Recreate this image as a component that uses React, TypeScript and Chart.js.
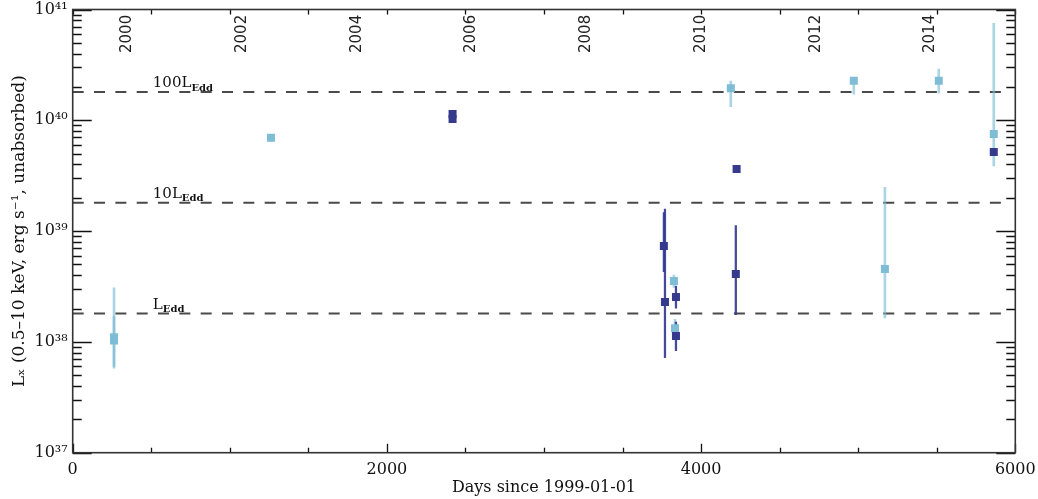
import React, { useEffect, useRef } from 'react';
import { Chart, registerables } from 'chart.js';

Chart.register(...registerables);

// ---------- data ----------
const lightDays = [263, 263, 1262, 3827, 3834, 4189, 4972, 5170, 5513, 5863];
const lightLum = [1.10e38, 1.03e38, 6.96e39, 3.55e38, 1.33e38, 1.95e40, 2.27e40, 4.55e38, 2.27e40, 7.52e39];
const lightLow = [6.0e37, 5.8e37, 6.5e39, 3.1e38, 1.1e38, 1.33e40, 1.72e40, 1.65e38, 1.76e40, 3.87e39];
const lightHigh = [3.08e38, 1.69e38, 7.4e39, 4.0e38, 1.6e38, 2.26e40, 2.35e40, 2.48e39, 2.9e40, 7.5e40];

const darkDays = [2418, 2418, 3763, 3770, 3840, 3840, 4221, 4226, 5863];
const darkLum = [1.14e40, 1.03e40, 7.35e38, 2.29e38, 2.54e38, 1.13e38, 4.10e38, 3.63e39, 5.18e39];
const darkLow = [1.08e40, 0.98e40, 4.31e38, 7.2e37, 2.02e38, 8.34e37, 1.76e38, 3.5e39, 4.9e39];
const darkHigh = [1.2e40, 1.08e40, 1.47e39, 1.58e39, 3.19e38, 1.51e38, 1.12e39, 3.75e39, 5.5e39];

const eddLevels = [1.8e38, 1.8e39, 1.8e40];
const eddPrefixes = ['', '10', '100'];
const eddLineEndDay = 5935;
const eddLabelDay = 510;

const xTickValues = [0, 2000, 4000, 6000];
const xTickLabels = ['0', '2000', '4000', '6000'];
const xMinorStep = 500;
const yTickValues = [1e37, 1e38, 1e39, 1e40, 1e41];
const yTickLabels = ['10³⁷', '10³⁸', '10³⁹', '10⁴⁰', '10⁴¹'];
const yearLabels = ['2000', '2002', '2004', '2006', '2008', '2010', '2012', '2014'];

const dayOfYearStart = (y: number) => (Date.UTC(y, 0, 1) - Date.UTC(1999, 0, 1)) / 86400000;

// ---------- colours ----------
const LIGHT = '#7fbcd6';
const LIGHT_ERR = 'rgba(120,185,212,0.62)';
const DARK = '#363a8c';
const DARK_ERR = 'rgba(52,57,145,0.92)';

const decorPlugin = {
  id: 'decor',
  afterDatasetsDraw(chart: any) {
    const { ctx, chartArea: a, scales } = chart;
    const x = scales.x;
    const y = scales.y;
    ctx.save();
    // inward ticks
    ctx.strokeStyle = '#111';
    ctx.lineWidth = 1.3;
    ctx.beginPath();
    for (let d = xTickValues[0]; d <= xTickValues[xTickValues.length - 1]; d += xMinorStep) {
      const px = Math.round(x.getPixelForValue(d)) + 0.5;
      const major = xTickValues.includes(d);
      ctx.moveTo(px, a.bottom);
      ctx.lineTo(px, a.bottom - (major ? 9 : 5));
      ctx.moveTo(px, a.top);
      ctx.lineTo(px, a.top + 5);
    }
    for (let i = 0; i < yTickValues.length; i++) {
      const dec = yTickValues[i];
      for (let m = 1; m <= 9; m++) {
        if (i === yTickValues.length - 1 && m > 1) break;
        const py = Math.round(y.getPixelForValue(m * dec)) + 0.5;
        const len = m === 1 ? 19 : 9;
        ctx.moveTo(a.left, py);
        ctx.lineTo(a.left + len, py);
        ctx.moveTo(a.right, py);
        ctx.lineTo(a.right - len, py);
      }
    }
    ctx.stroke();
    // frame
    ctx.strokeStyle = '#333';
    ctx.lineWidth = 1.6;
    ctx.strokeRect(a.left, a.top, a.right - a.left, a.bottom - a.top);

    // year labels (top, inside)
    ctx.fillStyle = '#222';
    ctx.font = '15px "DejaVu Sans"';
    ctx.textAlign = 'left';
    ctx.textBaseline = 'alphabetic';
    for (const lab of yearLabels) {
      const px = x.getPixelForValue(dayOfYearStart(Number(lab)));
      ctx.save();
      ctx.translate(px + 1, a.top + 43.5);
      ctx.rotate(-Math.PI / 2);
      ctx.fillText(lab, 0, 0);
      ctx.restore();
    }

    // Eddington labels
    ctx.fillStyle = '#111';
    for (let i = 0; i < eddLevels.length; i++) {
      const py = y.getPixelForValue(eddLevels[i]);
      const px = x.getPixelForValue(eddLabelDay);
      ctx.font = '15px "DejaVu Serif"';
      const main = eddPrefixes[i] + 'L';
      ctx.fillText(main, px, py - 5);
      const w = ctx.measureText(main).width;
      ctx.font = 'bold 10px "DejaVu Serif"';
      ctx.fillText('Edd', px + w, py - 1.5);
    }
    ctx.restore();
  },
};

function errBars(days: number[], low: number[], high: number[]) {
  return days.map((d, i) => ({ x: d, y: [low[i], high[i]] }));
}
function pts(days: number[], lum: number[]) {
  return days.map((d, i) => ({ x: d, y: lum[i] }));
}

export default function App() {
  const ref = useRef<HTMLCanvasElement>(null);
  useEffect(() => {
    document.body.style.margin = '0';
    const eddDatasets = eddLevels.map((L) => ({
      type: 'line' as const,
      data: [
        { x: 0, y: L },
        { x: eddLineEndDay, y: L },
      ],
      borderColor: '#4a4a4a',
      borderWidth: 2,
      borderDash: [11, 10.33],
      pointRadius: 0,
      order: 10,
    }));
    const chart = new Chart(ref.current as HTMLCanvasElement, {
      type: 'scatter',
      data: {
        datasets: [
          ...eddDatasets,
          {
            type: 'bar',
            data: errBars(lightDays, lightLow, lightHigh) as any,
            backgroundColor: LIGHT_ERR,
            borderWidth: 0,
            barThickness: 2,
            grouped: false,
            order: 4,
          } as any,
          {
            type: 'bar',
            data: errBars(darkDays, darkLow, darkHigh) as any,
            backgroundColor: DARK_ERR,
            borderWidth: 0,
            barThickness: 1.6,
            grouped: false,
            order: 3,
          } as any,
          {
            type: 'scatter',
            data: pts(lightDays, lightLum),
            pointStyle: 'rect',
            pointRadius: 5.66,
            pointBorderWidth: 0,
            backgroundColor: LIGHT,
            borderColor: LIGHT,
            order: 2,
          },
          {
            type: 'scatter',
            data: pts(darkDays, darkLum),
            pointStyle: 'rect',
            pointRadius: 5.66,
            pointBorderWidth: 0,
            backgroundColor: DARK,
            borderColor: DARK,
            order: 1,
          },
        ],
      },
      options: {
        responsive: false,
        animation: false,
        events: [],
        layout: { padding: { top: 9.5, right: 22.7, left: 0, bottom: 0 } },
        plugins: { legend: { display: false }, tooltip: { enabled: false } },
        scales: {
          x: {
            type: 'linear',
            min: 0,
            max: 6000,
            offset: false,
            grid: { display: false, drawTicks: false },
            border: { display: false },
            afterBuildTicks: (s: any) => {
              s.ticks = xTickValues.map((v) => ({ value: v }));
            },
            afterFit: (s: any) => {
              s.height = 46.3;
              s.paddingLeft = 0;
              s.paddingRight = 0;
            },
            ticks: {
              padding: 8,
              maxRotation: 0,
              color: '#111',
              font: { family: '"DejaVu Serif"', size: 16 },
              callback: (v: any) => xTickLabels[xTickValues.indexOf(Number(v))] ?? '',
            },
            title: {
              display: true,
              text: 'Days since 1999-01-01',
              color: '#111',
              font: { family: '"DejaVu Serif"', size: 16 },
              padding: { top: 0, bottom: 2 },
            },
          },
          y: {
            type: 'logarithmic',
            min: 1e37,
            max: 1e41,
            grid: { display: false, drawTicks: false },
            border: { display: false },
            afterBuildTicks: (s: any) => {
              s.ticks = yTickValues.map((v) => ({ value: v }));
            },
            afterFit: (s: any) => {
              s.width = 72.7;
              s.paddingTop = 0;
              s.paddingBottom = 0;
            },
            ticks: {
              padding: 5,
              color: '#111',
              font: { family: '"DejaVu Serif"', size: 16 },
              callback: (v: any) => {
                const i = yTickValues.findIndex((t) => Math.abs(t - Number(v)) / t < 1e-6);
                return i >= 0 ? yTickLabels[i] : '';
              },
            },
            title: {
              display: true,
              text: 'Lₓ (0.5–10 keV, erg s⁻¹, unabsorbed)',
              color: '#111',
              font: { family: '"DejaVu Serif"', size: 17 },
              padding: { top: 9, bottom: 0 },
            },
          },
        },
      },
      plugins: [decorPlugin],
    } as any);
    return () => chart.destroy();
  }, []);
  return (
    <canvas
      ref={ref}
      width={1038}
      height={499}
      style={{ display: 'block', width: '1038px', height: '499px' }}
    />
  );
}
